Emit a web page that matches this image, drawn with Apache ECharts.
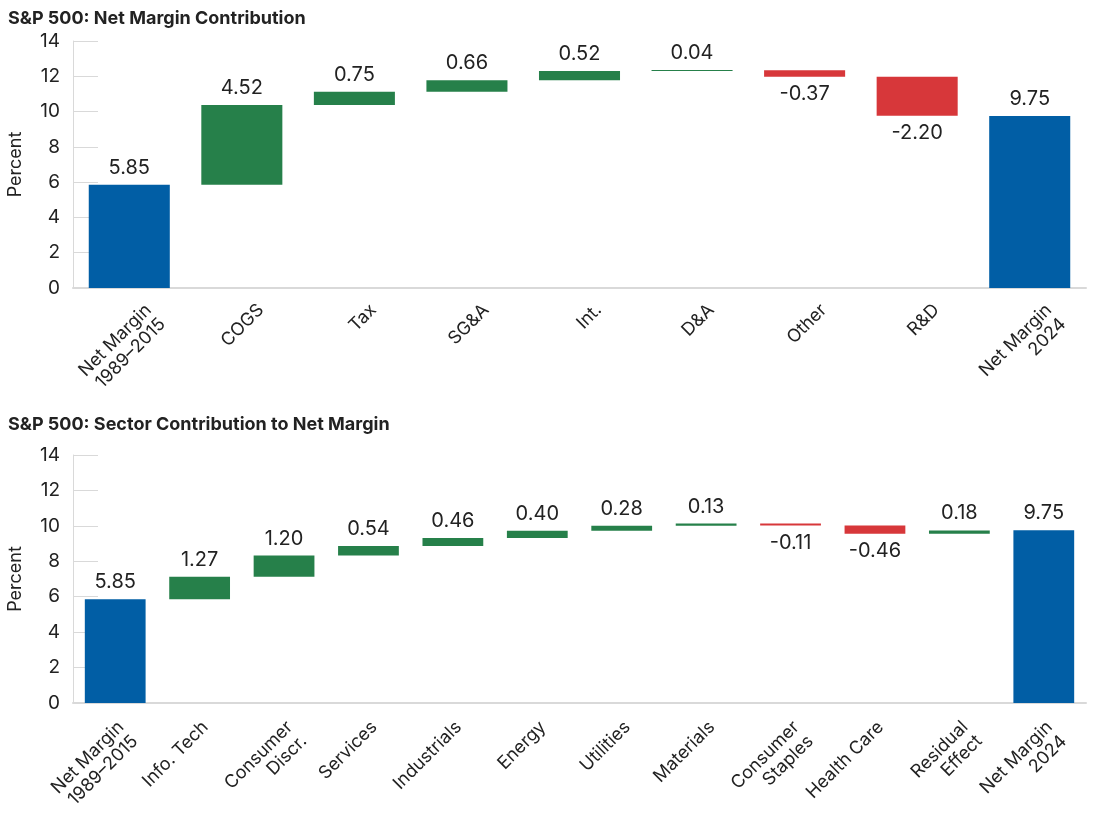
<!DOCTYPE html>
<html><head><meta charset="utf-8">
<script src="https://cdn.jsdelivr.net/npm/echarts@6/dist/echarts.min.js"></script>
<style>html,body{margin:0;padding:0;background:#fff}#c{width:1100px;height:813px}</style>
</head><body><div id="c"></div>
<script>
// ---- data ----
const topTitle = 'S&P 500: Net Margin Contribution';
const topCategories = ['Net Margin\n1989–2015', 'COGS', 'Tax', 'SG&A', 'Int.', 'D&A', 'Other', 'R&D', 'Net Margin\n2024'];
const topValues = [5.85, 4.52, 0.75, 0.66, 0.52, 0.04, -0.37, -2.20, 9.75];
const topIsTotal = [true, false, false, false, false, false, false, false, true];

const bottomTitle = 'S&P 500: Sector Contribution to Net Margin';
const bottomCategories = ['Net Margin\n1989–2015', 'Info. Tech', 'Consumer\nDiscr.', 'Services', 'Industrials', 'Energy', 'Utilities', 'Materials', 'Consumer\nStaples', 'Health Care', 'Residual\nEffect', 'Net Margin\n2024'];
const bottomValues = [5.85, 1.27, 1.20, 0.54, 0.46, 0.40, 0.28, 0.13, -0.11, -0.46, 0.18, 9.75];
const bottomIsTotal = [true, false, false, false, false, false, false, false, false, false, false, true];

const yMin = 0, yMax = 14, yStep = 2;
const yName = 'Percent';

// ---- styling ----
const FONT = 'Inter';
const BLUE = '#015ea5', GREEN = '#26804a', RED = '#d7373a';
const TXT = '#222';
const AXC = '#d9d9d9';

function waterfall(values, isTotal) {
  let run = 0;
  const base = [], bars = [];
  values.forEach((v, i) => {
    if (isTotal[i]) {
      base.push(0);
      bars.push({ value: v, itemStyle: { color: BLUE }, label: { position: 'top' } });
      run = v;
    } else {
      const s = run, e = run + v;
      base.push(Math.min(s, e));
      bars.push({ value: Math.abs(v), itemStyle: { color: v >= 0 ? GREEN : RED }, label: { position: v >= 0 ? 'top' : 'bottom' } });
      run = e;
    }
  });
  return { base, bars };
}

const wt = waterfall(topValues, topIsTotal);
const wb = waterfall(bottomValues, bottomIsTotal);

function xAxis(idx, data, pad) {
  return {
    type: 'category', gridIndex: idx, data: data,
    axisLine: { show: true, lineStyle: { color: AXC, width: 2 } },
    axisTick: { show: false },
    axisLabel: {
      interval: 0, rotate: 45, align: 'right', verticalAlign: 'top', margin: 0,
      padding: pad, fontSize: 18, lineHeight: 20, color: TXT, fontFamily: FONT
    }
  };
}
function yAxis(idx) {
  return {
    type: 'value', gridIndex: idx, min: yMin, max: yMax, interval: yStep,
    name: yName, nameLocation: 'middle', nameGap: 48, nameRotate: 90,
    nameTextStyle: { fontSize: 18, color: TXT, fontFamily: FONT },
    axisLine: { show: true, lineStyle: { color: AXC, width: 1 } },
    axisTick: { show: true, inside: true, length: 25, lineStyle: { color: AXC } },
    splitLine: { show: false },
    axisLabel: { fontSize: 19, color: TXT, fontFamily: FONT, margin: 13 }
  };
}
function series(idx, w, values) {
  return [
    { type: 'bar', xAxisIndex: idx, yAxisIndex: idx, stack: 's' + idx, data: w.base,
      itemStyle: { color: 'transparent' }, silent: true, barWidth: '72%', label: { show: false } },
    { type: 'bar', xAxisIndex: idx, yAxisIndex: idx, stack: 's' + idx, data: w.bars, barWidth: '72%',
      barMinHeight: 1,
      label: { show: true, distance: 7, fontSize: 20, color: TXT, fontFamily: FONT,
        formatter: p => values[p.dataIndex].toFixed(2) } }
  ];
}

const chart = echarts.init(document.getElementById('c'), null, { renderer: 'canvas' });
chart.setOption({
  animation: false,
  backgroundColor: '#fff',
  title: [
    { text: topTitle, left: 3, top: 5, textStyle: { fontSize: 18, fontWeight: 'bold', color: TXT, fontFamily: FONT } },
    { text: bottomTitle, left: 3, top: 411, textStyle: { fontSize: 18, fontWeight: 'bold', color: TXT, fontFamily: FONT } }
  ],
  grid: [
    { left: 73, right: 14, top: 41, height: 247, outerBoundsMode: 'none', containLabel: false },
    { left: 73, right: 14, top: 455, height: 248, outerBoundsMode: 'none', containLabel: false }
  ],
  xAxis: [xAxis(0, topCategories, [17, 0, 0, 0]), xAxis(1, bottomCategories, [9, 11, 0, 0])],
  yAxis: [yAxis(0), yAxis(1)],
  series: [...series(0, wt, topValues), ...series(1, wb, bottomValues)]
});
</script>
</body></html>
